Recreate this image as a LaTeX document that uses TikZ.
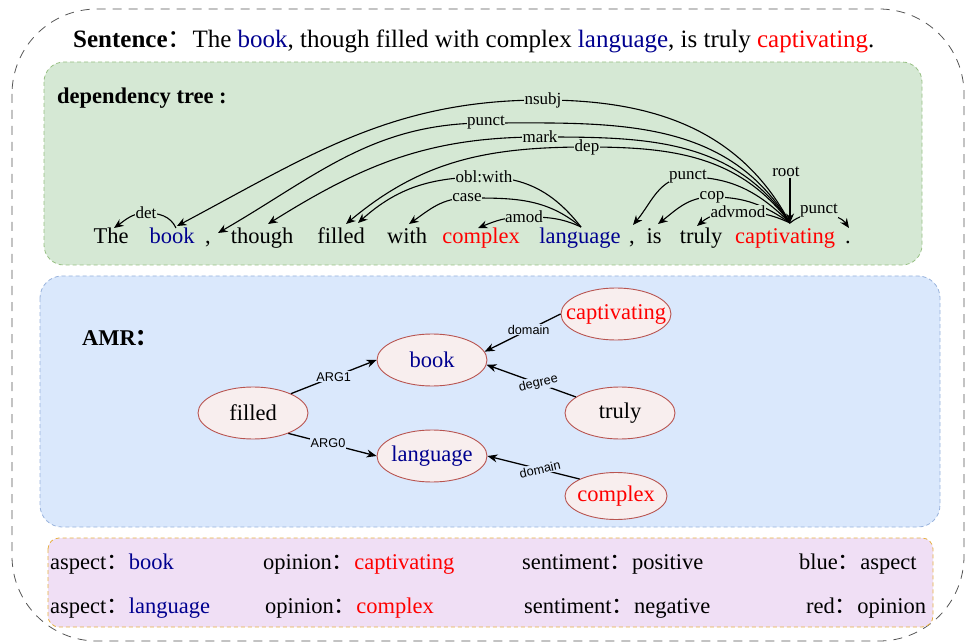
\documentclass[tikz,border=0pt]{standalone}
\usepackage{fontspec}
\setmainfont{Liberation Serif}
\setsansfont{Liberation Sans}
\newfontfamily\cjk{Noto Sans CJK SC}
\usetikzlibrary{shapes.geometric,arrows.meta}
\definecolor{greenbg}{HTML}{D5E8D4}
\definecolor{greenbd}{HTML}{97C083}
\definecolor{bluebg}{HTML}{DAE8FC}
\definecolor{bluebd}{HTML}{98B2DC}
\definecolor{purplebg}{HTML}{F0DFF5}
\definecolor{purplebd}{HTML}{E6B040}
\definecolor{ellfill}{HTML}{F8EEEE}
\definecolor{elldraw}{HTML}{B85450}
\definecolor{wblue}{HTML}{00008F}
\definecolor{wred}{HTML}{FF0000}
\definecolor{outergray}{HTML}{555555}
\newcommand{\fwcolon}{{\cjk ：}}
\begin{document}
\begin{tikzpicture}[x=1pt,y=1pt,
  wd/.style={inner sep=0pt, anchor=base, font=\fontsize{22.5}{27}\selectfont},
  dl/.style={fill=greenbg, inner sep=0.6pt, font=\fontsize{17}{20}\selectfont},
  arc/.style={line width=1.1pt, -{Stealth[length=9.5pt,width=8pt]}},
  amre/.style={line width=1.3pt, -{Stealth[length=10pt,width=8pt]}},
  al/.style={fill=bluebg, inner sep=1pt, font=\sffamily\fontsize{12.7}{15}\selectfont},
  ell/.style={ellipse, draw=elldraw, fill=ellfill, line width=0.9pt, minimum width=110pt, minimum height=52pt, inner xsep=-12pt, inner ysep=0pt, font=\fontsize{22.5}{27}\selectfont},
  rowtxt/.style={anchor=base west, inner sep=0pt, font=\fontsize{22.5}{27}\selectfont},
  boxdash/.style={dash pattern=on 4pt off 3pt, line width=0.8pt},
]
\useasboundingbox (0,0) rectangle (966,-644);
\draw[outergray, line width=0.8pt, dash pattern=on 9pt off 7pt, rounded corners=85pt] (12,-9) rectangle (964,-641);

% containers
\draw[boxdash, draw=greenbd, fill=greenbg, rounded corners=20pt] (44,-62) rectangle (922,-265);
\draw[boxdash, draw=bluebd, fill=bluebg, rounded corners=22pt] (40,-276) rectangle (940,-527);
\draw[boxdash, draw=purplebd, fill=purplebg, rounded corners=11pt] (48,-538) rectangle (933,-627);

% sentence
\node[anchor=base west, inner sep=0pt, font=\fontsize{25}{30}\selectfont] (sent) at (73,-48)
  {\textbf{Sentence}\fwcolon The \textcolor{wblue}{book}, though filled with complex \textcolor{wblue}{language}, is truly \textcolor{wred}{captivating}.};

% dependency tree
\node[anchor=base west, inner sep=0pt, font=\bfseries\fontsize{22.5}{27}\selectfont] (dtitle) at (57,-104) {dependency tree :};

\node[wd] (w1) at (111,-244) {The};
\node[wd,text=wblue] (w2) at (172,-244) {book};
\node[wd] (w3) at (208,-244) {,};
\node[wd] (w4) at (262,-244) {though};
\node[wd] (w5) at (341,-244) {filled};
\node[wd] (w6) at (407,-244) {with};
\node[wd,text=wred] (w7) at (481,-244) {complex};
\node[wd,text=wblue] (w8) at (580,-244) {language};
\node[wd] (w9) at (632,-244) {,};
\node[wd] (w10) at (654,-244) {is};
\node[wd] (w11) at (701,-244) {truly};
\node[wd,text=wred] (w12) at (785,-244) {captivating};
\node[wd] (w13) at (848,-244) {.};

\coordinate (hCap) at (790,-223);
\coordinate (hLang) at (581,-227);
\coordinate (hBook) at (176,-228);
\coordinate (tThe) at (114,-228);
\coordinate (tBook) at (177,-226);
\coordinate (tCa) at (218,-233);
\coordinate (tThough) at (268,-224);
\coordinate (tFilledA) at (346,-224);
\coordinate (tFilledB) at (358,-223);
\coordinate (tWith) at (409,-224);
\coordinate (tComplex) at (478,-228);
\coordinate (tCb) at (633,-225);
\coordinate (tIs) at (658,-224);
\coordinate (tTruly) at (697,-226);
\coordinate (tDot) at (849,-228);

\draw[arc] (hCap) to[out=118,in=0] (543,-100) node[dl]{nsubj} to[out=180,in=28] (tBook);
\draw[arc] (hCap) to[out=121,in=0] (486,-123) node[dl]{punct} to[out=180,in=30] (tCa);
\draw[arc] (hCap) to[out=124,in=0] (540,-137) node[dl]{mark} to[out=180,in=32] (tThough);
\draw[arc] (hCap) to[out=127,in=0] (587,-147) node[dl]{dep} to[out=180,in=40] (tFilledA);
\draw[arc] (hLang) to[out=128,in=0] (484,-177) node[dl]{obl:with} to[out=180,in=42] (tFilledB);
\draw[arc] (hLang) to[out=140,in=0] (467,-198) node[dl]{case} to[out=180,in=35] (tWith);
\draw[arc] (hLang) to[out=155,in=0] (524,-217) node[dl]{amod} to[out=180,in=22] (tComplex);
\draw[arc] (hBook) to[out=115,in=0] (146,-213) node[dl]{det} to[out=180,in=35] (tThe);
\draw[arc] (hCap) to[out=135,in=0] (688,-177) node[dl]{punct} to[out=180,in=50] (tCb);
\draw[arc] (hCap) to[out=145,in=0] (712,-197) node[dl]{cop} to[out=180,in=38] (tIs);
\draw[arc] (hCap) to[out=155,in=0] (738,-212) node[dl]{advmod} to[out=180,in=40] (tTruly);
\node[dl] (root) at (786,-172) {root};
\draw[arc] (root.south -| hCap) -- (hCap);
\draw[arc] (hCap) to[out=40,in=200] (819,-211) node[dl]{punct} to[out=-20,in=125] (tDot);

% AMR
\node[anchor=base west, inner sep=0pt, font=\bfseries\fontsize{22.5}{27}\selectfont] (amrt) at (82,-345) {AMR\fwcolon};

\node[ell] (filled) at (253,-413) {filled};
\node[ell,text=wblue] (book) at (432,-360) {book};
\node[ell,text=wblue] (lang) at (432,-456) {language};
\node[ell,text=wred] (capt) at (616,-314) {captivating};
\node[ell] (truly) at (620,-413) {truly};
\node[ell,text=wred,minimum width=102pt,minimum height=47pt] (cplx) at (616,-496) {complex};

\draw[amre] (filled.27) -- node[al,pos=0.5]{ARG1} (book.west);
\draw[amre] (filled.-30) -- node[al,pos=0.45]{ARG0} (lang.west);
\draw[amre] (capt.west) -- node[al,pos=0.42]{domain} (book.9);
\draw[amre] (truly.160) -- node[al,pos=0.42,rotate=13]{degree} (book.-5);
\draw[amre] (cplx.155) -- node[al,pos=0.43,rotate=13]{domain} (lang.east);

% legend rows
\node[rowtxt] (a1) at (50,-569) {aspect\fwcolon\textcolor{wblue}{book}};
\node[rowtxt] (o1) at (263,-569) {opinion\fwcolon\textcolor{wred}{captivating}};
\node[rowtxt] (s1) at (522,-569) {sentiment\fwcolon positive};
\node[rowtxt] (b1) at (799,-569) {blue\fwcolon aspect};
\node[rowtxt] (a2) at (50,-613) {aspect\fwcolon\textcolor{wblue}{language}};
\node[rowtxt] (o2) at (265,-613) {opinion\fwcolon\textcolor{wred}{complex}};
\node[rowtxt] (s2) at (524,-613) {sentiment\fwcolon negative};
\node[rowtxt] (r2) at (806,-613) {red\fwcolon opinion};
\end{tikzpicture}
\end{document}
